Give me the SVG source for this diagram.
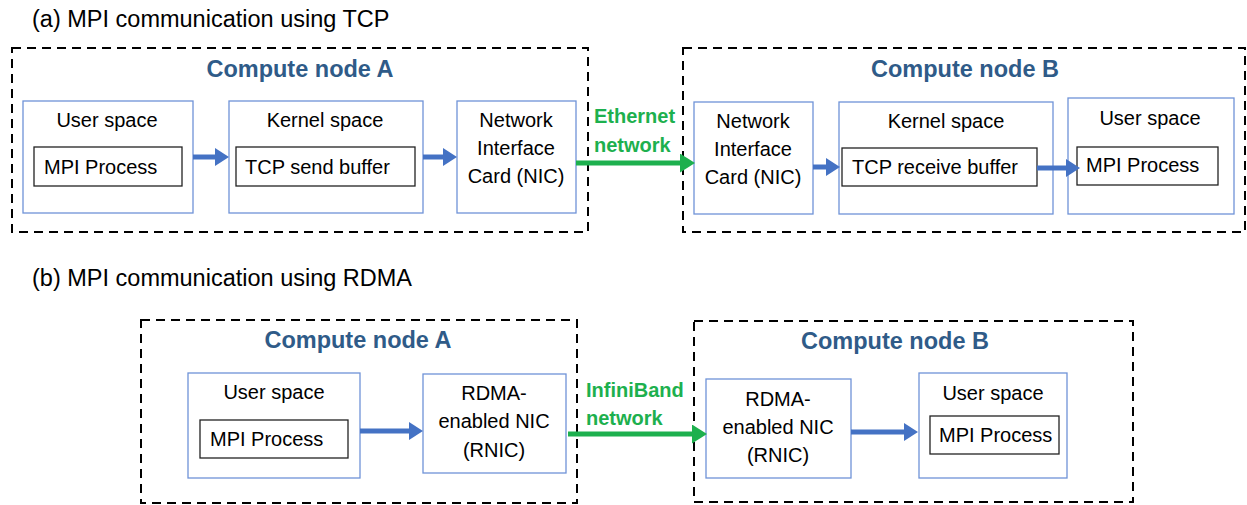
<svg xmlns="http://www.w3.org/2000/svg" width="1247" height="505" viewBox="0 0 1247 505">
<style>
text{font-family:"Liberation Sans",Arial,sans-serif;fill:#000}
.title{font-size:23.5px}
.lbl{font-size:20px}
.cn{font-size:23.5px;font-weight:bold;fill:#2F5B88}
.net{font-size:20px;font-weight:bold;fill:#1DB04E}
.dash{fill:none;stroke:#000;stroke-width:2;stroke-dasharray:9,6}
.sp{fill:#fff;stroke:#6F93D8;stroke-width:1.3}
.in{fill:#fff;stroke:#222;stroke-width:1.3}
.ba{stroke:#4472C4;stroke-width:5;fill:none}
.ga{stroke:#1DB04E;stroke-width:5;fill:none}
</style>
<defs>
<marker id="hb" markerUnits="userSpaceOnUse" markerWidth="14" markerHeight="18" viewBox="0 0 14 18" refX="0" refY="9" orient="auto"><path d="M0,0 L14,9 L0,18 z" fill="#4472C4"/></marker>
<marker id="hg" markerUnits="userSpaceOnUse" markerWidth="15" markerHeight="19" viewBox="0 0 15 19" refX="0" refY="9.5" orient="auto"><path d="M0,0 L15,9.5 L0,19 z" fill="#1DB04E"/></marker>
</defs>
<rect width="1247" height="505" fill="#fff"/>

<text class="title" x="32" y="27">(a) MPI communication using TCP</text>
<text class="title" x="32" y="286">(b) MPI communication using RDMA</text>

<g id="a-nodeA">
<rect class="dash" x="12" y="48" width="576" height="184"/>
<text class="cn" x="300" y="77" text-anchor="middle">Compute node A</text>
</g>
<g id="a-nodeB">
<rect class="dash" x="683" y="48" width="562" height="184"/>
<text class="cn" x="965" y="77" text-anchor="middle">Compute node B</text>
</g>

<g id="a-userA">
<rect class="sp" x="23" y="101" width="170" height="112"/>
<text class="lbl" x="107" y="127" text-anchor="middle">User space</text>
<rect class="in" x="34" y="147" width="148" height="39"/>
<text class="lbl" x="44" y="174">MPI Process</text>
</g>
<g id="a-kernelA">
<rect class="sp" x="229" y="101" width="194" height="112"/>
<text class="lbl" x="325" y="127" text-anchor="middle">Kernel space</text>
<rect class="in" x="236" y="147" width="179" height="39"/>
<text class="lbl" x="245" y="174">TCP send buffer</text>
</g>
<g id="a-nicA">
<rect class="sp" x="457" y="101" width="119" height="112"/>
<text class="lbl" x="516" y="127" text-anchor="middle">Network</text>
<text class="lbl" x="516" y="155" text-anchor="middle">Interface</text>
<text class="lbl" x="516" y="183" text-anchor="middle">Card (NIC)</text>
</g>
<g id="a-nicB">
<rect class="sp" x="694" y="102" width="119" height="112"/>
<text class="lbl" x="753" y="128" text-anchor="middle">Network</text>
<text class="lbl" x="753" y="156" text-anchor="middle">Interface</text>
<text class="lbl" x="753" y="184" text-anchor="middle">Card (NIC)</text>
</g>
<g id="a-kernelB">
<rect class="sp" x="839" y="102" width="214" height="112"/>
<text class="lbl" x="946" y="128" text-anchor="middle">Kernel space</text>
<rect class="in" x="842" y="148" width="195" height="38"/>
<text class="lbl" x="852" y="174">TCP receive buffer</text>
</g>
<g id="a-userB">
<rect class="sp" x="1068" y="98" width="166" height="116"/>
<text class="lbl" x="1150" y="125" text-anchor="middle">User space</text>
<rect class="in" x="1077" y="147" width="141" height="38"/>
<text class="lbl" x="1086" y="172">MPI Process</text>
</g>

<g id="b-nodeA">
<rect class="dash" x="141" y="320" width="436" height="183"/>
<text class="cn" x="358" y="348" text-anchor="middle">Compute node A</text>
</g>
<g id="b-nodeB">
<rect class="dash" x="694" y="321" width="439" height="181"/>
<text class="cn" x="895" y="349" text-anchor="middle">Compute node B</text>
</g>
<g id="b-userA">
<rect class="sp" x="188" y="373" width="172" height="105"/>
<text class="lbl" x="274" y="399" text-anchor="middle">User space</text>
<rect class="in" x="200" y="420" width="148" height="38"/>
<text class="lbl" x="210" y="446">MPI Process</text>
</g>
<g id="b-rnicA">
<rect class="sp" x="423" y="374" width="143" height="99"/>
<text class="lbl" x="494" y="400" text-anchor="middle">RDMA-</text>
<text class="lbl" x="494" y="428" text-anchor="middle">enabled NIC</text>
<text class="lbl" x="494" y="457" text-anchor="middle">(RNIC)</text>
</g>
<g id="b-rnicB">
<rect class="sp" x="706" y="379" width="145" height="99"/>
<text class="lbl" x="778" y="406" text-anchor="middle">RDMA-</text>
<text class="lbl" x="778" y="434" text-anchor="middle">enabled NIC</text>
<text class="lbl" x="778" y="462" text-anchor="middle">(RNIC)</text>
</g>
<g id="b-userB">
<rect class="sp" x="919" y="373" width="148" height="105"/>
<text class="lbl" x="993" y="400" text-anchor="middle">User space</text>
<rect class="in" x="930" y="416" width="129" height="38"/>
<text class="lbl" x="939" y="442">MPI Process</text>
</g>

<g id="connectors">
<line class="ba" x1="193" y1="157" x2="215" y2="157" marker-end="url(#hb)"/>
<line class="ba" x1="423" y1="157" x2="443" y2="157" marker-end="url(#hb)"/>
<line class="ga" x1="576" y1="163" x2="680" y2="163" marker-end="url(#hg)"/>
<line class="ba" x1="813" y1="167" x2="826" y2="167" marker-end="url(#hb)"/>
<line class="ba" x1="1037" y1="168" x2="1066" y2="168" marker-end="url(#hb)"/>
<line class="ba" x1="360" y1="431" x2="409" y2="431" marker-end="url(#hb)"/>
<line class="ga" x1="568" y1="434" x2="692" y2="434" marker-end="url(#hg)"/>
<line class="ba" x1="851" y1="432" x2="904" y2="432" marker-end="url(#hb)"/>
<text class="net" x="594" y="123">Ethernet</text>
<text class="net" x="594" y="152">network</text>
<text class="net" x="586" y="397">InfiniBand</text>
<text class="net" x="586" y="425">network</text>
</g>
</svg>
